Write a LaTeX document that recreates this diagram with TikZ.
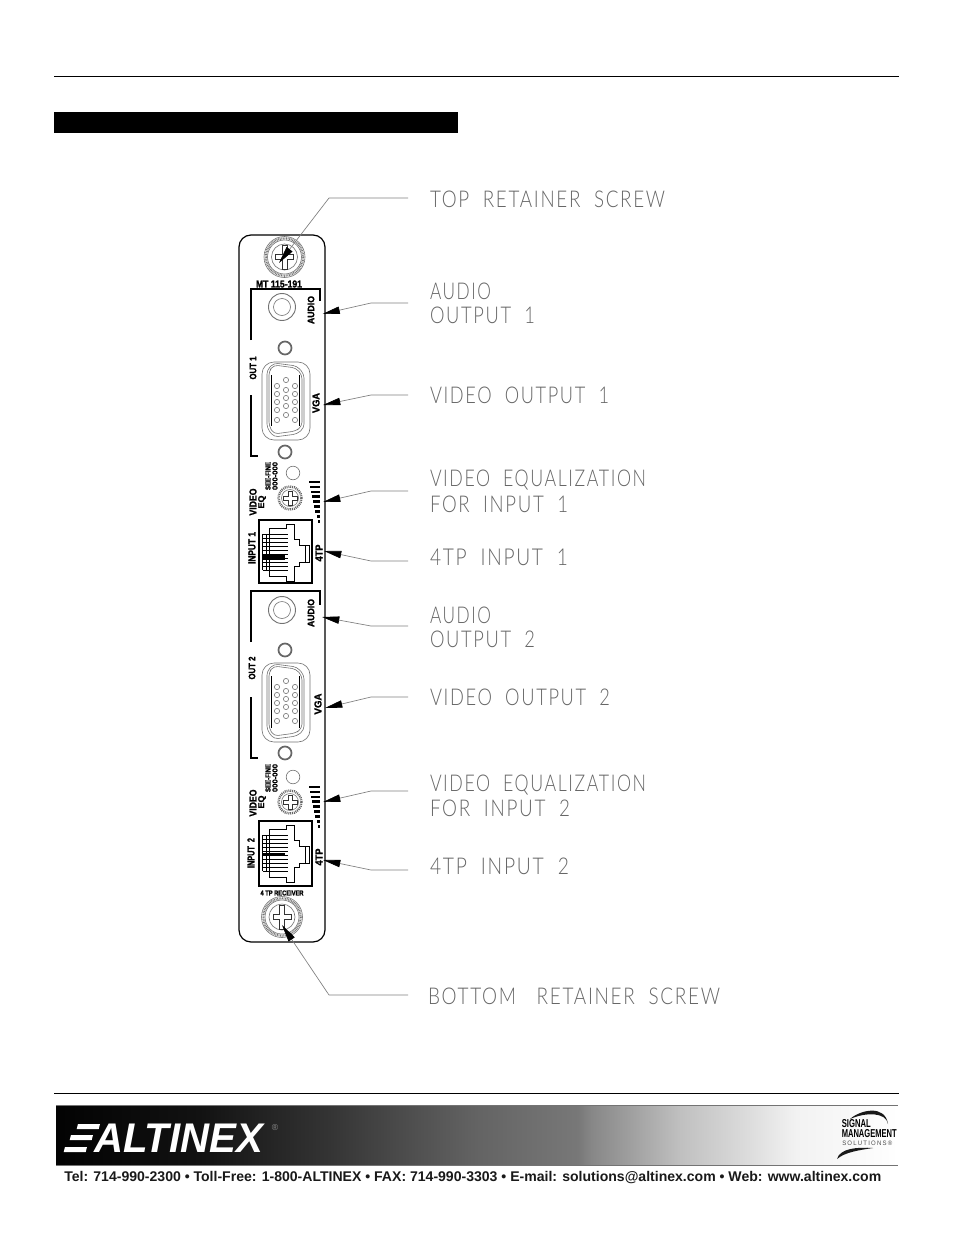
\documentclass[tikz,border=0pt]{standalone}
\usepackage{fontspec}
\usepackage{graphicx}
\setmainfont{Liberation Sans}
\newfontfamily\cadfont[LetterSpace=9]{Lato Light}
\newfontfamily\panfont[BoldFeatures={FakeBold=1.6}]{Liberation Sans}
\usetikzlibrary{arrows.meta}
\definecolor{cadgray}{gray}{0.4}
\definecolor{partgray}{gray}{0.45}
\pgfdeclarehorizontalshading{bannershade}{100bp}{
 color(0bp)=(black); color(25bp)=(black!99);
 color(33.5bp)=(black!93); color(41bp)=(black!80); color(50bp)=(black!61);
 color(56bp)=(black!53); color(56.8bp)=(black!47); color(59bp)=(black!38);
 color(62bp)=(black!25); color(66bp)=(black!14); color(69bp)=(black!5);
 color(74bp)=(black!1); color(75bp)=(white); color(100bp)=(white)}
\newcommand{\pxd}[1]{\dimexpr #1pt*3/4\relax}
% wide thin CAD lettering, fitted to a width in px
\newcommand{\cadtxt}[2]{\resizebox{\pxd{#1}}{12.4pt}{\color{cadgray}\cadfont #2}}
% bold panel lettering, fitted to length and height in px
\newcommand{\pantxt}[3]{\resizebox{\pxd{#1}}{\pxd{#2}}{\panfont\bfseries #3}}
\tikzset{
 x=0.75pt,y=-0.75pt,
 cadlabel/.style={anchor=west,inner sep=0pt,outer sep=0pt},
 pantext/.style={inner sep=0pt,outer sep=0pt,text=black},
 vertical/.style={pantext,rotate=90},
 leader/.style={draw=black!50,line width=0.5pt,-{Triangle[length=13pt,width=5.5pt,black]}},
 partline/.style={draw=partgray,line width=0.45pt},
 bracket/.style={draw=black,line width=1pt},
 ledring/.style={draw=black!60,line width=1.3pt},
}
\newcommand{\screwpart}[2]{%
 \begin{scope}[shift={(#1,#2)}]
  \draw[partline] (0,0) circle[radius=20.5];
  \draw[black!55,line width=1.6pt,dash pattern=on 0.6pt off 0.6pt] (0,0) circle[radius=18.7];
  \draw[partline] (0,0) circle[radius=17];
  \draw[partline] (0,0) circle[radius=13];
  \draw[partline,draw=black!80] (-2.5,-12) -- (2.5,-12) -- (2.5,-2.5) -- (9,-2.5) -- (9,2.5) -- (2.5,2.5) -- (2.5,12) -- (-2.5,12) -- (-2.5,2.5) -- (-9,2.5) -- (-9,-2.5) -- (-2.5,-2.5) -- cycle;
 \end{scope}}
\newcommand{\jackpart}[2]{%
 \draw[partline,line width=0.7pt] (#1,#2) circle[radius=13.5];
 \draw[partline] (#1,#2) circle[radius=8.5];}
\newcommand{\vgapart}[3]{% x top height
 \begin{scope}[shift={(#1,#2)}]
  \draw[partline,rounded corners=9pt] (262,0) rectangle (310,#3);
  \draw[partline,rounded corners=3pt] (269,9) -- (269,#3-14) -- (274,#3-6) -- (296,#3-9) -- (302,#3-14) -- (302,13) -- (296,6) -- (274,3) -- cycle;
  \draw[partline,rounded corners=3pt] (267,8) -- (267,#3-12) -- (274,#3-3) -- (297,#3-6) -- (304,#3-12) -- (304,12) -- (297,4) -- (274,1) -- cycle;
  \draw[partline,draw=black] (271.5,13) -- (271.5,#3-14);
  \draw[partline,draw=black] (299.5,13) -- (299.5,#3-14);
  \foreach \py in {24,32,40,48,58}{
   \draw[partline] (277,\py) circle[radius=2.6];
   \draw[partline] (295,\py) circle[radius=2.6];}
  \foreach \py in {18,28,36,44,53}{
   \draw[partline] (286,\py) circle[radius=2.6];}
 \end{scope}}
\newcommand{\potpart}[2]{%
 \begin{scope}[shift={(#1,#2)}]
  \draw[black!60,line width=1.8pt,dash pattern=on 0.7pt off 0.7pt] (0,0) circle[radius=11.5];
  \draw[partline] (0,0) circle[radius=8.5];
  \draw[partline,draw=black!80,line width=0.6pt] (-2,-7) -- (2,-7) -- (2,-2) -- (7,-2) -- (7,2) -- (2,2) -- (2,7) -- (-2,7) -- (-2,2) -- (-7,2) -- (-7,-2) -- (-2,-2) -- cycle;
 \end{scope}}
\newcommand{\barspart}[1]{% top y of the scale
 \foreach \i in {0,...,8}{
  \fill[black] ({308.5+\i*1.15},{#1+\i*4.9-1.3}) rectangle ({320+\i*0.0},{#1+\i*4.9+1.3});}}
\newcommand{\rjpart}[3]{% x y boxheight, band half-thickness
 \begin{scope}[shift={(#1,#2)}]
  \draw[black,line width=1.1pt] (0,0) rectangle (53,#3);
  \draw[black,line width=0.55pt] (10.5,8.3) -- (27.7,8.3) -- (27.7,4) -- (35.3,4) -- (35.3,19) -- (40.3,19) -- (40.3,25) -- (46,25) -- (46,42) -- (40.3,42) -- (40.3,46) -- (35.3,46) -- (35.3,61) -- (27.7,61) -- (27.7,56.7) -- (10.5,56.7) -- cycle;
  \draw[black,line width=0.55pt] (46,25) -- (50,25) -- (50,42) -- (46,42);
  \foreach \pv in {14,18,22,26,30,34,38,42,46,50}{
   \draw[black,line width=0.55pt] (3.5,\pv) -- (29,\pv);}
  \draw[black,line width=0.5pt] (3.5,14) -- (3.5,50) (7,14) -- (7,50);
 \end{scope}}
\begin{document}
\begin{tikzpicture}
\useasboundingbox (0,0) rectangle (954,1235);
\fill[white] (0,0) rectangle (954,1235);
% page furniture
\draw[black,line width=0.6pt] (54,76) -- (899,76);
\fill[black] (54,112) rectangle (458,133);
\draw[black,line width=0.6pt] (54,1093) -- (899,1093);
% banner
\shade[shading=bannershade] (56,1105) rectangle (898,1165);
\fill[black!55] (56,1104.5) rectangle (898,1105.5);
\fill[black!55] (56,1164.5) rectangle (898,1165.5);
\fill[white] (78,1124) -- (100,1124) -- (98.7,1129) -- (76.7,1129) -- cycle;
\fill[white] (71,1135) -- (93,1135) -- (91.7,1140) -- (69.7,1140) -- cycle;
\fill[white] (65,1147) -- (87,1147) -- (85.7,1152) -- (63.7,1152) -- cycle;
\node[anchor=west,inner sep=0pt,text=white] (logo) at (94,1138) {\resizebox{\pxd{169}}{\pxd{28.5}}{\bfseries\itshape ALTINEX}};
\node[inner sep=0pt,text=black!45] (regmark) at (275,1127) {\fontsize{6.5pt}{7pt}\selectfont ®};
\node[anchor=west,inner sep=0pt,text=black!90] (contact) at (64,1178) {\resizebox{\pxd{817}}{!}{\bfseries Tel: 714-990-2300 • Toll-Free: 1-800-ALTINEX • FAX: 714-990-3303 • E-mail: solutions@altinex.com • Web: www.altinex.com}};
% signal management logo
\fill[black!90] (850,1119) .. controls (860,1110) and (885,1104) .. (888,1124) .. controls (886,1112) and (866,1112) .. cycle;
\fill[black!90] (837,1159) .. controls (840,1148) and (858,1147) .. (873,1148) .. controls (860,1150) and (845,1152) .. cycle;
\node[anchor=west,inner sep=0pt,text=black] (sig) at (841.5,1124) {\resizebox{\pxd{29}}{\pxd{8}}{\bfseries SIGNAL}};
\node[anchor=west,inner sep=0pt,text=black] (mgt) at (841.5,1134) {\resizebox{\pxd{55}}{\pxd{8}}{\bfseries MANAGEMENT}};
\node[anchor=west,inner sep=0pt,text=black!70] (sol) at (842,1143) {\resizebox{\pxd{50}}{\pxd{4.5}}{\addfontfeature{LetterSpace=20}SOLUTIONS®}};
% panel
\draw[black,line width=0.9pt,rounded corners=9pt] (239,235) rectangle (325,942);
\screwpart{284.5}{257}
\screwpart{282}{917}
\node[pantext] (mt) at (279,284) {\pantxt{46}{7}{MT 115-191}};
% section 1
\draw[bracket] (251,340) -- (251,289) -- (320,289) -- (320,301);
\draw[bracket] (251,395) -- (251,456) -- (258,456);
\jackpart{282}{307}
\node[vertical] (audio1) at (311,310) {\pantxt{28}{6.5}{AUDIO}};
\draw[ledring] (285,348) circle[radius=6.5];
\draw[ledring] (285,452) circle[radius=6.5];
\node[vertical] (out1) at (253,368) {\pantxt{23}{6.5}{OUT 1}};
\vgapart{0}{362}{78}
\node[vertical] (vga1) at (316,403) {\pantxt{20}{7}{VGA}};
\node[vertical] (video1) at (253,502) {\pantxt{27}{7}{VIDEO}};
\node[vertical] (eq1) at (262,502) {\pantxt{13}{6}{EQ}};
\node[vertical] (fine1) at (268,476) {\pantxt{28}{5}{SEE-FINE}};
\node[vertical] (crs1) at (275,476) {\pantxt{28}{5}{000-000}};
\draw[partline] (293,473) circle[radius=6.8];
\potpart{290}{498}
\barspart{482}
\rjpart{259}{520}{63}
\fill[black] (262.5,555) rectangle (285,560);
\node[vertical] (in1) at (252,548) {\pantxt{32}{7}{INPUT 1}};
\node[vertical] (tp1) at (319,553) {\pantxt{17}{7}{4TP}};
% section 2
\draw[bracket] (251,642) -- (251,591) -- (320,591) -- (320,605);
\draw[bracket] (251,697) -- (251,758) -- (258,758);
\jackpart{282}{610}
\node[vertical] (audio2) at (311,613) {\pantxt{28}{6.5}{AUDIO}};
\draw[ledring] (285,650) circle[radius=6.5];
\draw[ledring] (285,753) circle[radius=6.5];
\node[vertical] (out2) at (252,668) {\pantxt{23}{6.5}{OUT 2}};
\vgapart{0}{663}{79}
\node[vertical] (vga2) at (318,704) {\pantxt{21}{7}{VGA}};
\node[vertical] (video2) at (253,803) {\pantxt{27}{7}{VIDEO}};
\node[vertical] (eq2) at (262,802) {\pantxt{13}{6}{EQ}};
\node[vertical] (fine2) at (268,778) {\pantxt{28}{5}{SEE-FINE}};
\node[vertical] (crs2) at (275,778) {\pantxt{28}{5}{000-000}};
\draw[partline] (293,777) circle[radius=6.8];
\potpart{290}{802}
\barspart{787}
\rjpart{259}{821}{65}
\fill[black] (262.5,853) rectangle (285,856);
\node[vertical] (in2) at (251,853) {\pantxt{30}{7}{INPUT \ 2}};
\node[vertical] (tp2) at (319,857) {\pantxt{17}{7}{4TP}};
\node[pantext] (rcv) at (282,893) {\pantxt{43}{5}{4 TP RECEIVER}};
% callout labels
\node[cadlabel] (l1) at (430,199) {\cadtxt{235}{TOP\ \ RETAINER\ \ SCREW}};
\node[cadlabel] (l2a) at (430,291) {\cadtxt{61}{AUDIO}};
\node[cadlabel] (l2b) at (430,315) {\cadtxt{105}{OUTPUT\ \ 1}};
\node[cadlabel] (l3) at (430,395) {\cadtxt{179}{VIDEO\ \ OUTPUT\ \ 1}};
\node[cadlabel] (l4a) at (430,480) {\cadtxt{216}{VIDEO\ \ EQUALIZATION}};
\node[cadlabel] (l4b) at (430,504) {\cadtxt{138}{FOR\ \ INPUT\ \ 1}};
\node[cadlabel] (l5) at (430,557) {\cadtxt{138}{4TP\ \ INPUT\ \ 1}};
\node[cadlabel] (l6a) at (430,615) {\cadtxt{61}{AUDIO}};
\node[cadlabel] (l6b) at (430,639) {\cadtxt{105}{OUTPUT\ \ 2}};
\node[cadlabel] (l7) at (430,697) {\cadtxt{180}{VIDEO\ \ OUTPUT\ \ 2}};
\node[cadlabel] (l8a) at (430,785) {\cadtxt{216}{VIDEO\ \ EQUALIZATION}};
\node[cadlabel] (l8b) at (430,808) {\cadtxt{140}{FOR\ \ INPUT\ \ 2}};
\node[cadlabel] (l9) at (430,866) {\cadtxt{139}{4TP\ \ INPUT\ \ 2}};
\node[cadlabel] (l10) at (428,996) {\cadtxt{292}{BOTTOM\ \ \ RETAINER\ \ SCREW}};
% connector points
\coordinate (s1) at (408,198); \coordinate (e1) at (329,198); \coordinate (t1) at (279,263);
\coordinate (s2) at (408,303); \coordinate (e2) at (371,303); \coordinate (t2) at (322.5,314);
\coordinate (s3) at (408,395); \coordinate (e3) at (371,395); \coordinate (t3) at (323,405);
\coordinate (s4) at (408,491); \coordinate (e4) at (371,491); \coordinate (t4) at (323,502);
\coordinate (s5) at (408,561); \coordinate (e5) at (371,561); \coordinate (t5) at (324,551);
\coordinate (s6) at (408,626); \coordinate (e6) at (371,626); \coordinate (t6) at (322,617);
\coordinate (s7) at (408,697); \coordinate (e7) at (371,697); \coordinate (t7) at (325,708);
\coordinate (s8) at (408,791); \coordinate (e8) at (371,791); \coordinate (t8) at (323,802);
\coordinate (s9) at (408,870); \coordinate (e9) at (371,870); \coordinate (t9) at (323,860);
\coordinate (s10) at (408,995); \coordinate (e10) at (329,995); \coordinate (t10) at (282,925);
\foreach \n in {1,...,10}{\draw[leader] (s\n) -- (e\n) -- (t\n);}
\end{tikzpicture}
\end{document}
